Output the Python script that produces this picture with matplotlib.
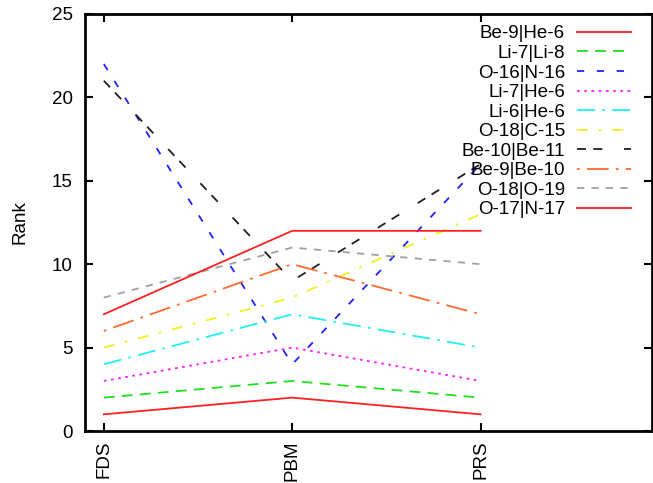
import matplotlib
matplotlib.use("Agg")
import matplotlib.pyplot as plt

plt.rcParams['font.family'] = ['Liberation Sans', 'DejaVu Sans']

methods = ["FDS", "PBM", "PRS"]
labels = ["Be-9|He-6", "Li-7|Li-8", "O-16|N-16", "Li-7|He-6", "Li-6|He-6",
          "O-18|C-15", "Be-10|Be-11", "Be-9|Be-10", "O-18|O-19", "O-17|N-17"]
be9_he6 = [1, 2, 1]
li7_li8 = [2, 3, 2]
o16_n16 = [22, 4, 16]
li7_he6 = [3, 5, 3]
li6_he6 = [4, 7, 5]
o18_c15 = [5, 8, 13]
be10_be11 = [21, 9, 16]
be9_be10 = [6, 10, 7]
o18_o19 = [8, 11, 10]
o17_n17 = [7, 12, 12]
series = [be9_he6, li7_li8, o16_n16, li7_he6, li6_he6,
          o18_c15, be10_be11, be9_be10, o18_o19, o17_n17]

colors = ["#ff2020", "#20e020", "#2020ff", "#ff20ff", "#20f0f0",
          "#f0f020", "#202020", "#ff6a30", "#a0a0a0", "#ff2020"]
styles = ["-", (0, (6, 4)), (0, (4, 7)), (0, (1.5, 2.5)), (0, (10, 4, 1.5, 4)),
          (0, (6, 6, 1.5, 6)), (0, (5, 4, 5, 12)), (0, (1.5, 4, 12, 4)),
          (0, (4, 4)), "-"]

fig = plt.figure(figsize=(6.53, 4.83), dpi=100)
ax = fig.add_axes([85/653, 1 - 431/483, (652-85)/653, (431-14)/483])
x = list(range(len(methods)))
for s, lab, c, ls in zip(series, labels, colors, styles):
    ax.plot(x, s, color=c, linestyle=ls, linewidth=1.3, label=lab)

ax.set_xlim(-0.1, 2.91)
ax.set_ylim(0, 25)
ax.set_yticks([0, 5, 10, 15, 20, 25])
ax.set_xticks(x)
ax.set_xticklabels(methods, rotation=90, fontsize=13.5)
ax.tick_params(axis='y', labelsize=13.5, pad=9)
ax.tick_params(axis='x', pad=7)
ax.tick_params(direction='in', top=True, right=True, length=6, width=1.5)
for sp in ax.spines.values():
    sp.set_linewidth(2)
ax.set_ylabel("Rank", fontsize=13.5, labelpad=16.5)

leg = ax.legend(loc='upper right', frameon=False, markerfirst=False,
                fontsize=13.5, handlelength=2.85, handletextpad=0.65,
                labelspacing=0.13, borderaxespad=0.2,
                bbox_to_anchor=(0.982, 1.0))

fig.savefig("out.png", dpi=100)
